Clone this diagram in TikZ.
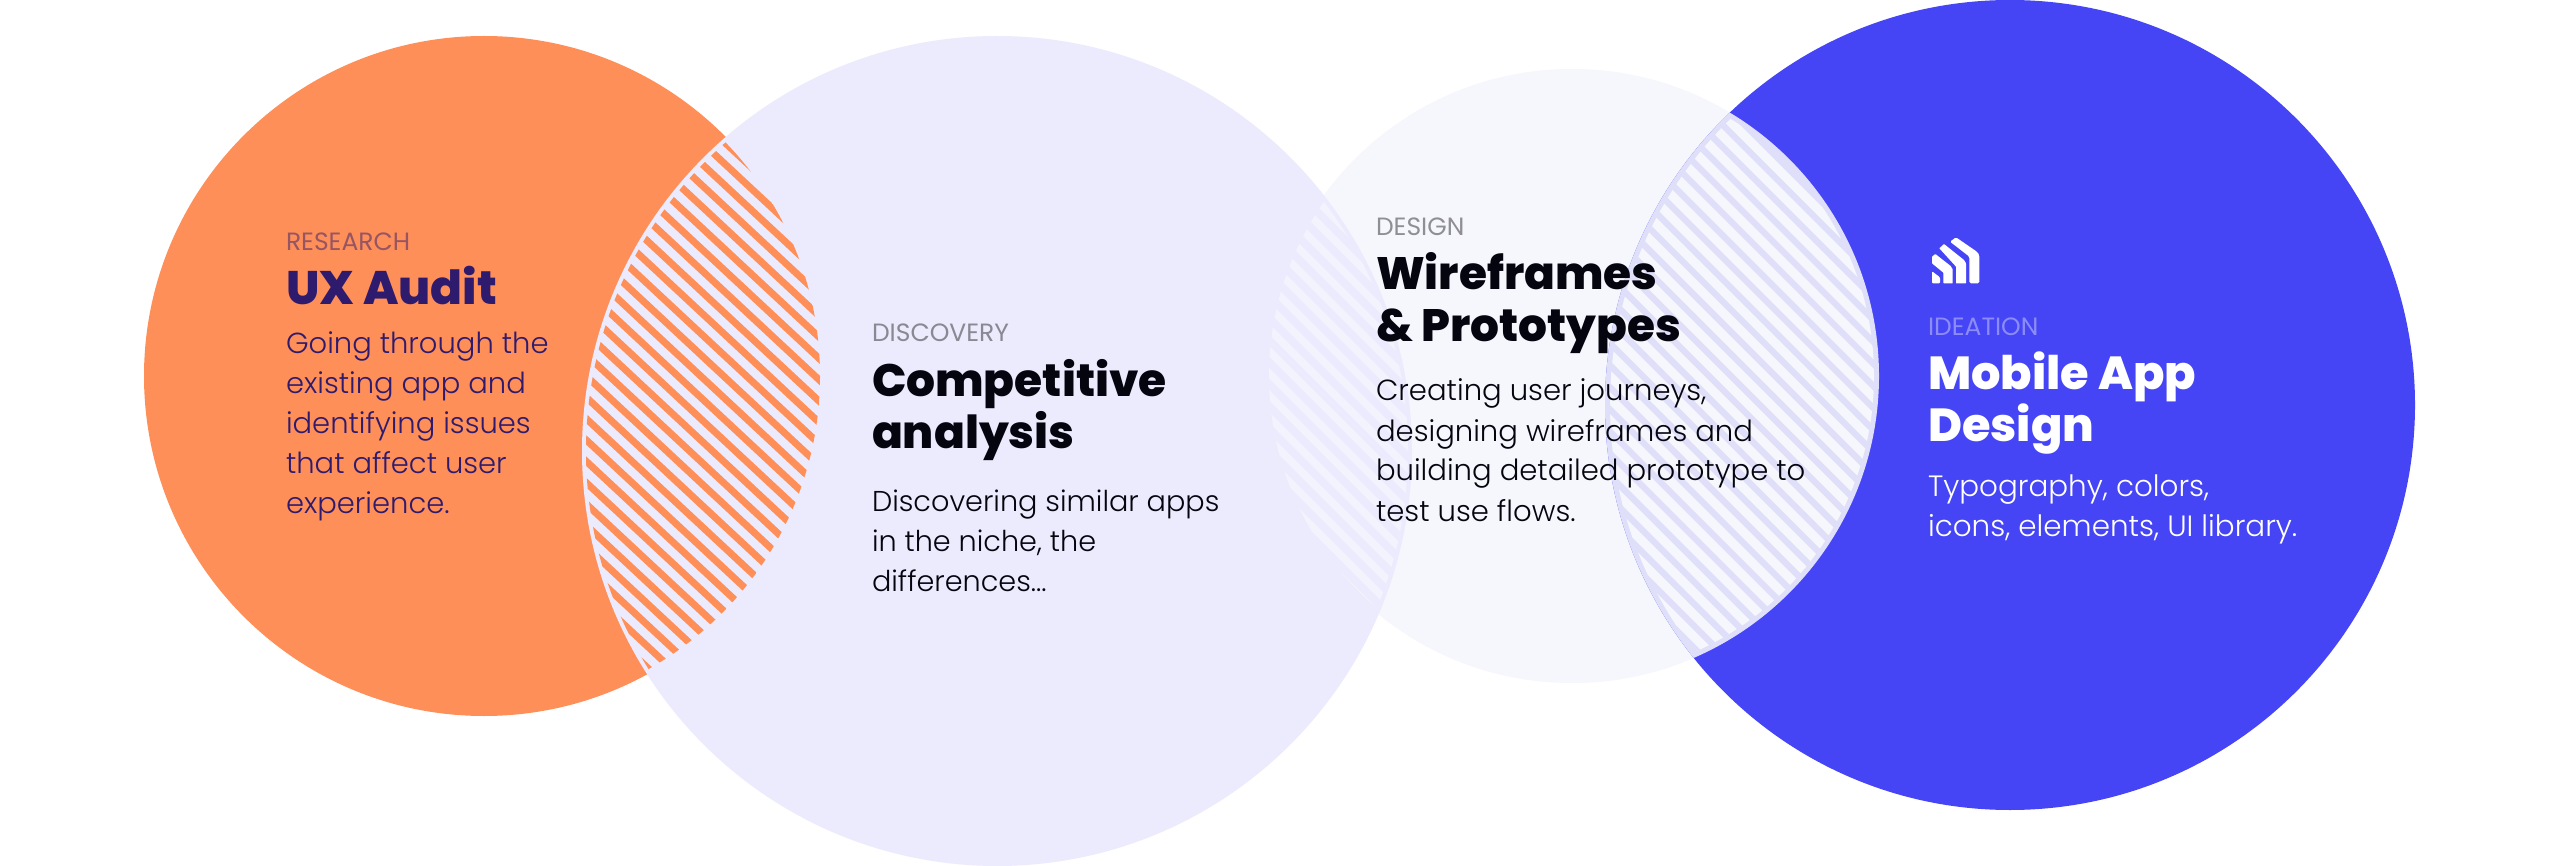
\documentclass[tikz,border=0pt]{standalone}
\usepackage{fontspec}
\newfontfamily\labelf{Poppins}
\newfontfamily\titlef{Poppins ExtraBold}
\newfontfamily\bodyf{Poppins Light}
\definecolor{orangec}{HTML}{FF8F59}
\definecolor{lightc}{HTML}{ECEBFD}
\definecolor{palec}{HTML}{F6F6FD}
\definecolor{stripec}{HTML}{F3F3FE}
\definecolor{bluec}{HTML}{4545F5}
\definecolor{lensc}{HTML}{DFDFF9}
\definecolor{inkc}{HTML}{2E1B6E}
\definecolor{blackc}{HTML}{050510}
\newcommand{\tblock}[2]{\vtop{\baselineskip=#1\lineskiplimit=-100pt\relax #2}}
\newcommand{\tl}[1]{\hbox{#1}}
\tikzset{
  txtbase/.style={anchor=base west,inner sep=0pt,outer sep=0pt},
  captext/.style={txtbase,font=\labelf\fontsize{#1}{#1}\selectfont},
  ttltext/.style={txtbase,font=\titlef\fontsize{#1}{#1}\selectfont},
  bdytext/.style={txtbase,font=\bodyf\fontsize{#1}{#1}\selectfont},
}
\begin{document}
\begin{tikzpicture}[x=1pt,y=-1pt]
\useasboundingbox (0,0) rectangle (2562,866);
\fill[white] (0,0) rectangle (2562,866);
% circles
\fill[orangec] (484,376) circle[radius=340];
\fill[palec] (1572,376) circle[radius=307];
\fill[bluec] (2010,405) circle[radius=405];
% blue lens
\begin{scope}
  \clip (1572,376) circle[radius=307];
  \fill[lensc] (2010,405) circle[radius=405];
  \clip (2010,405) circle[radius=400];
  \clip (1572,376) circle[radius=302];
  \begin{scope}[shift={(1742,376)},rotate=-45]
    \foreach \k in {-26,...,26}
      \draw[palec,line width=9pt] (-500,\k*15.6) -- (500,\k*15.6);
  \end{scope}
\end{scope}
\fill[lightc] (997,451) circle[radius=415];
% orange lens
\begin{scope}
  \clip (997,451) circle[radius=411];
  \clip (484,376) circle[radius=336];
  \begin{scope}[shift={(686,405)},rotate=-43]
    \foreach \k in {-26,...,26}
      \draw[orangec,line width=7pt] (-500,\k*15.6) -- (500,\k*15.6);
  \end{scope}
\end{scope}
% pale lens
\begin{scope}
  \clip (997,451) circle[radius=411];
  \clip (1572,376) circle[radius=303];
  \begin{scope}[shift={(1340,400)},rotate=-45]
    \foreach \k in {-20,...,20}
      \draw[stripec,line width=7.5pt] (-400,\k*15.6) -- (400,\k*15.6);
  \end{scope}
\end{scope}
% icon
\begin{scope}[shift={(1920,230)},x=0.3333pt,y=-0.3333pt]
  \fill[white,rounded corners=1.5pt] (90,35) -- (108,22) -- (172,66) -- (178,76) -- (178,160) -- (148,160) -- (148,80) -- cycle;
  \fill[white,rounded corners=0.5pt] (58,55) -- (72,42) -- (132,90) -- (138,100) -- (138,160) -- (108,160) -- (108,110) -- cycle;
  \fill[white,rounded corners=0.5pt] (36,80) -- (46,72) -- (92,108) -- (98,118) -- (98,160) -- (70,160) -- (70,128) -- (36,100) -- cycle;
  \fill[white,rounded corners=1pt] (36,124) -- (60,142) -- (60,160) -- (36,160) -- cycle;
\end{scope}
% texts
\node[captext=25,text=inkc!50!orangec] (t1) at (286,251) {RESEARCH};
\node[ttltext=47,text=inkc] (t2) at (286,305) {UX Audit};
\node[bdytext=29,text=inkc] (t3) at (286,354) {\tblock{40pt}{\tl{Going through the}\tl{existing app and}\tl{identifying issues}\tl{that affect user}\tl{experience.}}};
\node[captext=25,text=black!42!lightc] (d1) at (872,342) {DISCOVERY};
\node[ttltext=45.5,text=blackc] (d2) at (872,396) {\tblock{52pt}{\tl{Competitive}\tl{analysis}}};
\node[bdytext=28.7,text=blackc] (d3) at (872,511) {\tblock{40pt}{\tl{Discovering similar apps}\tl{in the niche, the}\tl{differences...}}};
\node[captext=25,text=black!42!palec] (w1) at (1376,236) {DESIGN};
\node[ttltext=45.4,text=blackc] (w2) at (1376,290) {\tblock{52pt}{\tl{Wireframes}\tl{\& Prototypes}}};
\node[bdytext=29.1,text=blackc] (w3) at (1376,401) {\tblock{40pt}{\tl{Creating user journeys,}\tl{designing wireframes and}\tl{building detailed prototype to}\tl{test use flows.}}};
\node[captext=25,text=white!38!bluec] (m1) at (1928,336) {IDEATION};
\node[ttltext=46.3,text=white] (m2) at (1928,389) {\tblock{52pt}{\tl{Mobile App}\tl{Design}}};
\node[bdytext=29.4,text=white] (m3) at (1928,496) {\tblock{40pt}{\tl{Typography, colors,}\tl{icons, elements, UI library.}}};
\end{tikzpicture}
\end{document}
